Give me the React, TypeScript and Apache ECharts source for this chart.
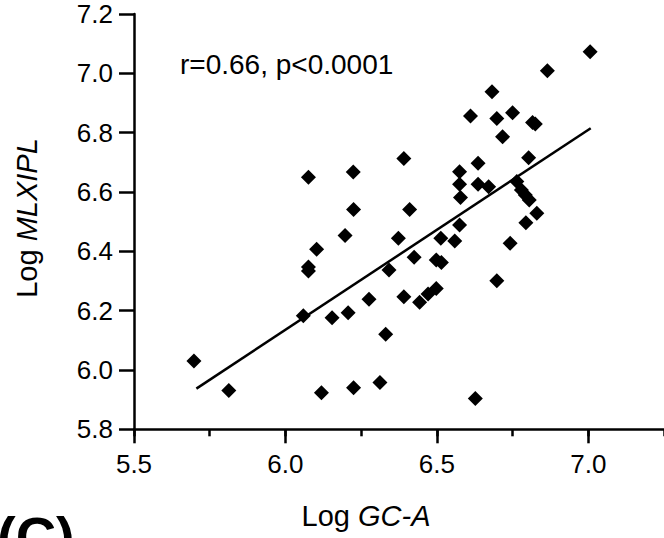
import React, { useEffect, useRef } from "react";
import * as echarts from "echarts";

// Log GC-A (x) values
const xValues = [
  5.698, 5.813, 6.059, 6.076, 6.076, 6.103, 6.076, 6.197, 6.225, 6.224,
  6.119, 6.225, 6.312, 6.154, 6.207, 6.276, 6.331, 6.342, 6.373, 6.391,
  6.41, 6.425, 6.391, 6.443, 6.471, 6.498, 6.498, 6.515, 6.513, 6.559,
  6.575, 6.575, 6.578, 6.575, 6.611, 6.627, 6.636, 6.636, 6.671, 6.682,
  6.698, 6.698, 6.717, 6.742, 6.75, 6.764, 6.779, 6.792, 6.805, 6.794,
  6.803, 6.825, 6.816, 6.83, 6.865, 7.006,
];
// Log MLXIPL (y) values
const yValues = [
  6.03, 5.931, 6.183, 6.347, 6.334, 6.407, 6.65, 6.453, 6.541, 6.667,
  5.923, 5.94, 5.958, 6.176, 6.193, 6.238, 6.12, 6.337, 6.444, 6.247,
  6.541, 6.38, 6.713, 6.228, 6.256, 6.275, 6.371, 6.362, 6.444, 6.435,
  6.668, 6.626, 6.581, 6.489, 6.856, 5.904, 6.697, 6.626, 6.618, 6.938,
  6.848, 6.301, 6.786, 6.427, 6.867, 6.635, 6.607, 6.59, 6.573, 6.496,
  6.715, 6.829, 6.834, 6.528, 7.009, 7.073,
];
// regression line end points
const fitLine = [
  [5.706, 5.937],
  [7.008, 6.815],
];
const xTicks = [5.5, 6.0, 6.5, 7.0];
const yTicks = [5.8, 6.0, 6.2, 6.4, 6.6, 6.8, 7.0, 7.2];
const statText = "r=0.66, p<0.0001";
const panelLabel = "(C)";

const FONT = "'Liberation Sans', Arial, Helvetica, sans-serif";

export default function App() {
  const ref = useRef<HTMLDivElement>(null);
  useEffect(() => {
    if (!ref.current) return;
    const chart = echarts.init(ref.current, undefined, { renderer: "svg" });
    const axisColor = "#000";
    chart.setOption({
      animation: false,
      backgroundColor: "#fff",
      grid: { left: 134, top: 14, width: 532, height: 415.3, containLabel: false },
      xAxis: [
        {
          type: "value",
          min: 5.5,
          max: 7.25,
          interval: 0.5,
          position: "bottom",
          axisLine: { show: true, onZero: false, lineStyle: { color: axisColor, width: 2.5 } },
          axisTick: { show: true, length: 14, lineStyle: { color: axisColor, width: 2.5 } },
          axisLabel: {
            show: true,
            margin: 22,
            color: "#000",
            fontSize: 26,
            fontFamily: FONT,
            showMaxLabel: false,
            formatter: (v: number) =>
              xTicks.some((t) => Math.abs(t - v) < 1e-6) ? v.toFixed(1) : "",
          },
          splitLine: { show: false },
        },
        {
          type: "value",
          min: 5.5,
          max: 7.25,
          interval: 0.25,
          position: "bottom",
          axisLine: { show: false },
          axisTick: { show: true, length: 7, lineStyle: { color: axisColor, width: 2.5 } },
          axisLabel: { show: false },
          splitLine: { show: false },
        },
      ],
      yAxis: {
        type: "value",
        min: 5.8,
        max: 7.2,
        interval: 0.2,
        axisLine: { show: true, onZero: false, lineStyle: { color: axisColor, width: 2.5 } },
        axisTick: { show: true, length: 15, lineStyle: { color: axisColor, width: 2.5 } },
        axisLabel: {
          margin: 21,
          color: "#000",
          fontSize: 26,
          fontFamily: FONT,
          formatter: (v: number) =>
            yTicks.some((t) => Math.abs(t - v) < 1e-6) ? v.toFixed(1) : "",
        },
        splitLine: { show: false },
      },
      series: [
        {
          type: "line",
          xAxisIndex: 0,
          data: fitLine,
          symbol: "none",
          lineStyle: { color: "#000", width: 2.5 },
          z: 2,
        },
        {
          type: "scatter",
          xAxisIndex: 0,
          data: xValues.map((x, i) => [x, yValues[i]]),
          symbol: "diamond",
          symbolSize: 15,
          itemStyle: { color: "#000", opacity: 1 },
          z: 3,
        },
      ],
      graphic: [
        {
          type: "text",
          left: 180,
          top: 50,
          style: { text: statText, font: `28px ${FONT}`, fill: "#000" },
        },
        {
          type: "text",
          x: 366,
          y: 516,
          style: {
            text: "{a|Log }{b|GC-A}",
            align: "center",
            verticalAlign: "middle",
            rich: {
              a: { fontSize: 29, fontFamily: FONT, fill: "#000" },
              b: { fontSize: 29, fontFamily: FONT, fontStyle: "italic", fill: "#000" },
            },
          },
        },
        {
          type: "text",
          x: 27,
          y: 218,
          rotation: Math.PI / 2,
          style: {
            text: "{a|Log }{b|MLXIPL}",
            align: "center",
            verticalAlign: "middle",
            rich: {
              a: { fontSize: 29, fontFamily: FONT, fill: "#000" },
              b: { fontSize: 29, fontFamily: FONT, fontStyle: "italic", fill: "#000" },
            },
          },
        },
        {
          type: "text",
          x: -3,
          y: 508,
          style: {
            text: panelLabel,
            font: `bold 56px ${FONT}`,
            fill: "#000",
            verticalAlign: "top",
          },
        },
      ],
    });
    return () => chart.dispose();
  }, []);
  return (
    <div
      ref={ref}
      style={{ position: "absolute", left: 0, top: 0, width: 664, height: 538 }}
    />
  );
}
